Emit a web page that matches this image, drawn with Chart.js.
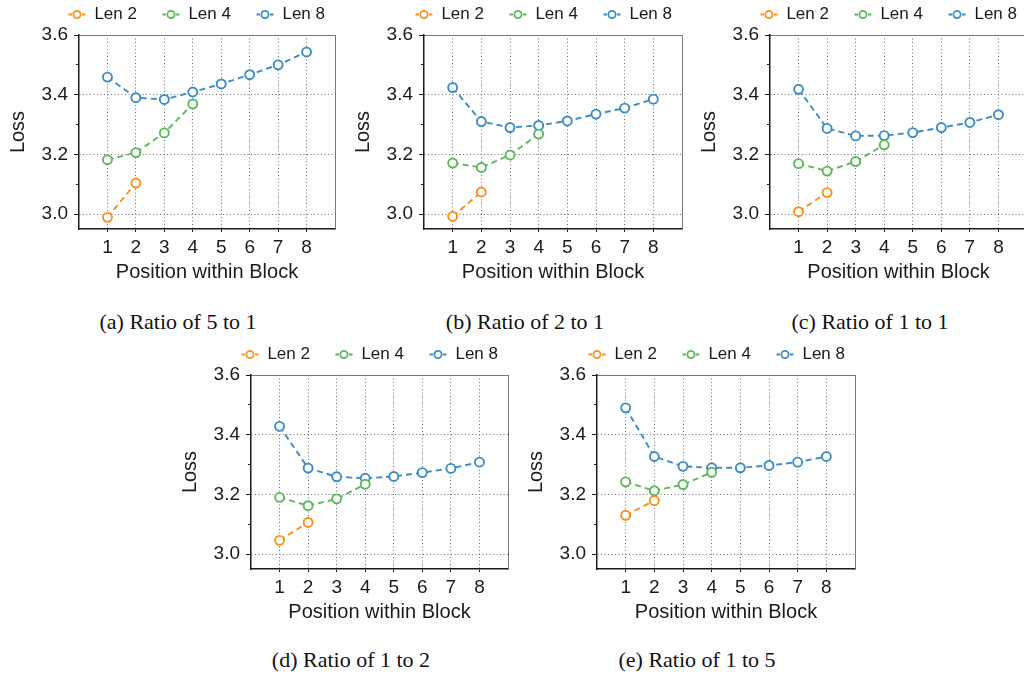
<!DOCTYPE html>
<html>
<head>
<meta charset="utf-8">
<script src="https://cdn.jsdelivr.net/npm/chart.js@4.4.1/dist/chart.umd.min.js"></script>
<style>
body { margin:0; background:#fff; overflow:hidden; width:1024px; height:675px; position:relative; }
canvas { position:absolute; }
.cap { position:absolute; font-family:'Liberation Serif', 'Times New Roman', serif; font-size:22px; line-height:26px; white-space:nowrap; transform:translateX(-50%); color:#111; }
</style>
</head>
<body>
<canvas id="pa" width="350" height="290" style="left:0px;top:0px"></canvas>
<canvas id="pb" width="352" height="290" style="left:345px;top:0px"></canvas>
<canvas id="pc" width="351" height="290" style="left:691px;top:0px"></canvas>
<canvas id="pd" width="351" height="290" style="left:172px;top:340px"></canvas>
<canvas id="pe" width="352" height="290" style="left:518px;top:340px"></canvas>
<div class="cap" style="left:178px;top:309px">(a) Ratio of 5 to 1</div>
<div class="cap" style="left:525px;top:309px">(b) Ratio of 2 to 1</div>
<div class="cap" style="left:870px;top:309px">(c) Ratio of 1 to 1</div>
<div class="cap" style="left:351px;top:647px">(d) Ratio of 1 to 2</div>
<div class="cap" style="left:697px;top:647px">(e) Ratio of 1 to 5</div>
<script>
// shared axis values
var positions = [1, 2, 3, 4, 5, 6, 7, 8];
var yMajorTicks = [3.0, 3.2, 3.4, 3.6];
var yMinorTicks = [3.1, 3.3, 3.5];
var seriesNames = ['Len 2', 'Len 4', 'Len 8'];
var seriesColors = ['#fb8f1b', '#5cb85b', '#3c8dc4'];

// (a) ratio 5 to 1
var ratio5to1Len2 = [2.989, 3.104];
var ratio5to1Len4 = [3.182, 3.206, 3.272, 3.369];
var ratio5to1Len8 = [3.459, 3.390, 3.384, 3.409, 3.436, 3.467, 3.500, 3.543];

// (b) ratio 2 to 1
var ratio2to1Len2 = [2.992, 3.074];
var ratio2to1Len4 = [3.171, 3.156, 3.198, 3.268];
var ratio2to1Len8 = [3.424, 3.310, 3.290, 3.297, 3.312, 3.335, 3.355, 3.385];

// (c) ratio 1 to 1
var ratio1to1Len2 = [3.008, 3.072];
var ratio1to1Len4 = [3.169, 3.144, 3.176, 3.232];
var ratio1to1Len8 = [3.418, 3.287, 3.262, 3.263, 3.273, 3.290, 3.307, 3.333];

// (d) ratio 1 to 2
var ratio1to2Len2 = [3.046, 3.106];
var ratio1to2Len4 = [3.190, 3.162, 3.185, 3.234];
var ratio1to2Len8 = [3.428, 3.288, 3.259, 3.254, 3.260, 3.273, 3.287, 3.308];

// (e) ratio 1 to 5
var ratio1to5Len2 = [3.130, 3.179];
var ratio1to5Len4 = [3.242, 3.212, 3.233, 3.274];
var ratio1to5Len8 = [3.490, 3.327, 3.294, 3.289, 3.289, 3.297, 3.308, 3.327];

var FONT = "'Liberation Sans', Arial, Helvetica, sans-serif";
var INK = '#1a1a1a';
var GRID = '#6a6a6a';

// little "-o-" glyph for the legend
function makeMarker(color) {
    var c = document.createElement('canvas');
    c.width = 18;
    c.height = 17;
    var g = c.getContext('2d');
    g.strokeStyle = color;
    g.lineWidth = 1.8;
    g.beginPath();
    g.moveTo(0.5, 8.5); g.lineTo(4, 8.5);
    g.moveTo(14, 8.5); g.lineTo(17.5, 8.5);
    g.stroke();
    g.beginPath();
    g.arc(9, 8.5, 3.6, 0, Math.PI * 2);
    g.fillStyle = '#fff';
    g.fill();
    g.stroke();
    return c;
}
var markers = seriesColors.map(makeMarker);

function toPoints(values) {
    return values.map(function (v, i) { return {x: positions[i], y: v}; });
}

function drawPanel(id, len2, len4, len8) {
    var all = [len2, len4, len8];
    var datasets = all.map(function (vals, i) {
        return {
            label: seriesNames[i],
            data: toPoints(vals),
            xAxisID: 'x',
            yAxisID: 'y',
            borderColor: seriesColors[i],
            backgroundColor: '#fff',
            borderWidth: 1.9,
            borderDash: [6, 4],
            pointRadius: 4.5,
            pointBorderWidth: 1.9,
            pointBackgroundColor: '#fff',
            pointBorderColor: seriesColors[i],
            tension: 0
        };
    });

    new Chart(document.getElementById(id), {
        type: 'line',
        data: {datasets: datasets},
        options: {
            responsive: false,
            animation: false,
            devicePixelRatio: 1,
            layout: {padding: {top: -19, right: 0, bottom: 0, left: 0}},
            plugins: {
                tooltip: {enabled: false},
                legend: {
                    position: 'top',
                    align: 'end',
                    labels: {
                        usePointStyle: true,
                        pointStyleWidth: 18,
                        padding: 25,
                        color: INK,
                        font: {family: FONT, size: 17},
                        generateLabels: function (chart) {
                            var items = Chart.defaults.plugins.legend.labels.generateLabels(chart);
                            items.forEach(function (it) { it.pointStyle = markers[it.datasetIndex]; });
                            return items;
                        }
                    }
                }
            },
            scales: {
                x: {
                    type: 'linear',
                    position: 'bottom',
                    min: 0,
                    max: 9,
                    afterBuildTicks: function (s) { s.ticks = positions.map(function (v) { return {value: v}; }); },
                    afterFit: function (s) { s.height = 61; },
                    ticks: {color: INK, font: {family: FONT, size: 19}, padding: 4, maxRotation: 0},
                    grid: {color: GRID, lineWidth: 1, tickColor: INK, tickLength: 3, tickWidth: 1},
                    border: {color: INK, width: 1.5, dash: [1, 2.5]},
                    title: {display: true, text: 'Position within Block', color: INK,
                        font: {family: FONT, size: 20}, padding: {top: 0, bottom: 6}}
                },
                xTop: {
                    type: 'linear',
                    position: 'top',
                    min: 0,
                    max: 9,
                    ticks: {display: false},
                    grid: {display: false, drawTicks: false},
                    border: {color: '#777', width: 1},
                    afterFit: function (s) { s.height = 2; }
                },
                y: {
                    type: 'linear',
                    position: 'left',
                    weight: 1,
                    min: 2.95,
                    max: 3.6,
                    afterBuildTicks: function (s) { s.ticks = yMajorTicks.map(function (v) { return {value: v}; }); },
                    afterFit: function (s) { s.width = 79; },
                    ticks: {color: INK, font: {family: FONT, size: 19}, padding: 6,
                        callback: function (v) { return v.toFixed(1); }},
                    grid: {
                        color: function (ctx) { return ctx.tick && ctx.tick.value > 3.55 ? 'rgba(0,0,0,0)' : GRID; },
                        lineWidth: 1, tickColor: INK, tickLength: 5, tickWidth: 1
                    },
                    border: {color: INK, width: 1.5, dash: [1, 2.5]},
                    title: {display: true, text: 'Loss', color: INK,
                        font: {family: FONT, size: 20}, padding: {top: 6, bottom: 0}}
                },
                yMinor: {
                    type: 'linear',
                    position: 'left',
                    weight: 0,
                    min: 2.95,
                    max: 3.6,
                    afterBuildTicks: function (s) { s.ticks = yMinorTicks.map(function (v) { return {value: v}; }); },
                    afterFit: function (s) { s.width = 0; },
                    ticks: {display: false},
                    grid: {drawOnChartArea: false, color: 'rgba(0,0,0,0)', tickColor: INK, tickLength: 3, tickWidth: 1},
                    border: {display: false}
                },
                yRight: {
                    type: 'linear',
                    position: 'right',
                    min: 2.95,
                    max: 3.6,
                    ticks: {display: false},
                    grid: {display: false, drawTicks: false},
                    border: {color: '#777', width: 1},
                    afterFit: function (s) { s.width = 15; }
                }
            }
        }
    });
}

drawPanel('pa', ratio5to1Len2, ratio5to1Len4, ratio5to1Len8);
drawPanel('pb', ratio2to1Len2, ratio2to1Len4, ratio2to1Len8);
drawPanel('pc', ratio1to1Len2, ratio1to1Len4, ratio1to1Len8);
drawPanel('pd', ratio1to2Len2, ratio1to2Len4, ratio1to2Len8);
drawPanel('pe', ratio1to5Len2, ratio1to5Len4, ratio1to5Len8);
</script>
</body>
</html>
